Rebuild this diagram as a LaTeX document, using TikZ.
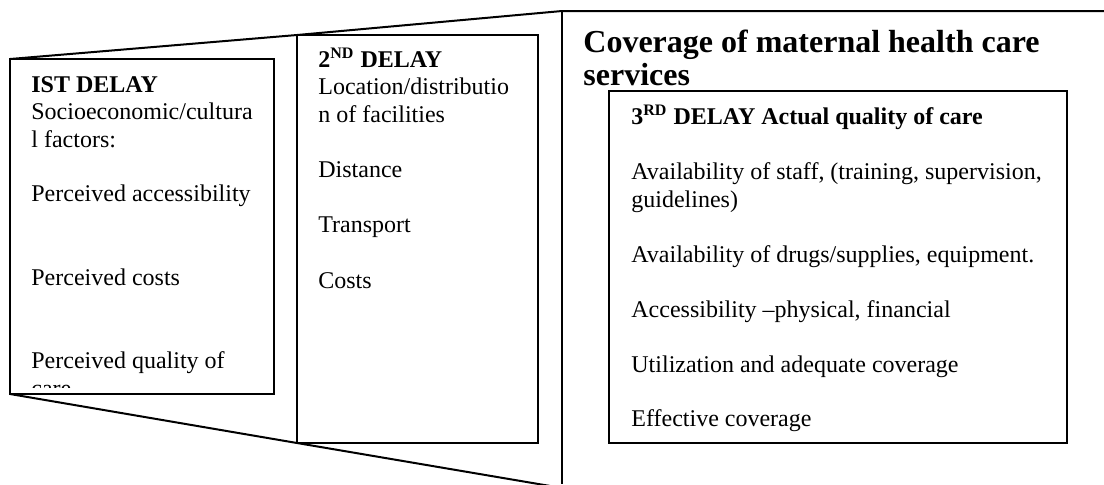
\documentclass[tikz,border=0pt]{standalone}
\usepackage{fontspec}
\setmainfont{Liberation Serif}
\begin{document}
\begin{tikzpicture}[x=0.5pt,y=-0.5pt,
  edge/.style={line width=1pt, draw=black},
  box/.style={line width=1pt, draw=black, fill=white},
  txt/.style={anchor=base west, inner sep=0pt, font=\fontsize{12}{13.8}\selectfont},
  hd/.style={anchor=base west, inner sep=0pt, font=\fontsize{12}{13.8}\selectfont\bfseries},
  ttl/.style={anchor=base west, inner sep=0pt, font=\fontsize{16}{18}\selectfont\bfseries}]
\useasboundingbox (0,0) rectangle (1104,484);
% corners
\coordinate (b1tl) at (10,59);
\coordinate (b1br) at (274,394);
\coordinate (b1bl) at (10,394);
\coordinate (b2tl) at (297,35);
\coordinate (b2br) at (538,443);
\coordinate (b2bl) at (297,443);
\coordinate (b3tl) at (609,91);
\coordinate (b3br) at (1067,443);
\coordinate (apex) at (562,11);
\coordinate (rend) at (1104,11);
\coordinate (vbot) at (562,484);
\coordinate (lowend) at (562,488);
\begin{scope}
\clip (0,0) rectangle (1104,484);
\draw[edge] (b1tl) -- (b2tl) -- (apex) -- (rend);
\draw[edge] (apex) -- (vbot);
\draw[edge] (b1bl) -- (b2bl) -- (lowend);
\end{scope}
% boxes
\draw[box] (b1tl) rectangle (b1br);
\draw[box] (b2tl) rectangle (b2br);
\draw[box] (b3tl) rectangle (b3br);
% title
\node[ttl] (t1) at (583,52) {Coverage of maternal health care};
\node[ttl] (t2) at (583,85) {services};
% box 1
\node[hd] (a0) at (31,92) {IST DELAY};
\node[txt] (a1) at (31,119) {Socioeconomic/cultura};
\node[txt] (a2) at (31,147) {l factors:};
\node[txt] (a3) at (31,201) {Perceived accessibility};
\node[txt] (a4) at (31,285) {Perceived costs};
\node[txt] (a5) at (31,368) {Perceived quality of};
\begin{scope}
\clip (12,300) rectangle (272,387);
\node[txt] (a6) at (31,396) {care};
\end{scope}
% box 2
\node[hd] (c0) at (318,67) {2\textsuperscript{ND} DELAY};
\node[txt] (c1) at (318,94) {Location/distributio};
\node[txt] (c2) at (318,122) {n of facilities};
\node[txt] (c3) at (318,177) {Distance};
\node[txt] (c4) at (318,232) {Transport};
\node[txt] (c5) at (318,288) {Costs};
% box 3
\node[hd] (d0) at (631,124) {3\textsuperscript{RD} DELAY Actual quality of care};
\node[txt] (d1) at (631,179) {Availability of staff, (training, supervision,};
\node[txt] (d2) at (631,207) {guidelines)};
\node[txt] (d3) at (631,262) {Availability of drugs/supplies, equipment.};
\node[txt] (d4) at (631,317) {Accessibility –physical, financial};
\node[txt] (d5) at (631,372) {Utilization and adequate coverage};
\node[txt] (d6) at (631,426) {Effective coverage};
\end{tikzpicture}
\end{document}
